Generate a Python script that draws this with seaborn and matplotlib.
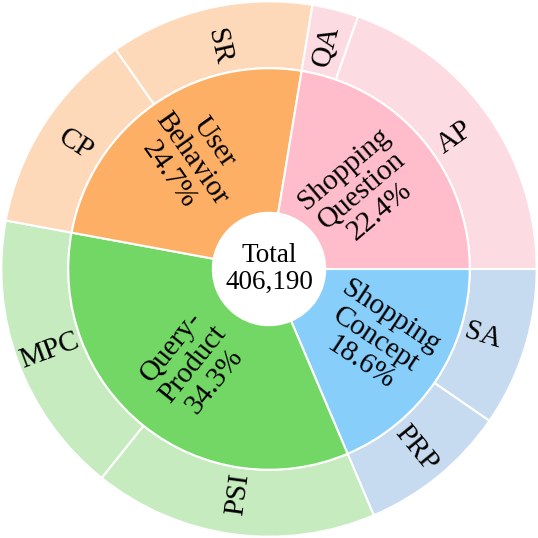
import numpy as np
import matplotlib.pyplot as plt
import seaborn as sns

# inner ring (task groups) and outer ring (sub-tasks), clockwise from 3 o'clock
inner_labels = ["Shopping\nConcept\n18.6%", "Query-\nProduct\n34.3%",
                "User\nBehavior\n24.7%", "Shopping\nQuestion\n22.4%"]
inner_values = [18.6, 34.3, 24.7, 22.4]
outer_labels = ["SA", "PRP", "PSI", "MPC", "CP", "SR", "QA", "AP"]
outer_values = [9.6, 9.0, 17.15, 17.15, 12.4, 12.3, 2.8, 19.6]
total_text = "Total\n406,190"

inner_colors = ["#87CEFA", "#72D764", "#FDAF66", "#FFBCCB"]
light_colors = ["#C6DBF0", "#C5EBBE", "#FDD9B9", "#FDDBE2"]
outer_colors = [c for c in light_colors for _ in range(2)]

# where the label text sits along each wedge's middle (fraction of outer radius)
inner_text_r = [0.478, 0.455, 0.505, 0.455]
outer_text_r = [0.835, 0.865, 0.85, 0.875, 0.86, 0.85, 0.86, 0.85]

sns.set_theme(style="white")
plt.rcParams['font.family'] = ['Liberation Serif', 'DejaVu Serif']

fig = plt.figure(figsize=(5.38, 5.38), dpi=100)
ax = fig.add_axes([0, 0, 1, 1])

R_OUT, R_MID, R_HOLE = 1.0, 0.75, 0.21
edge = dict(edgecolor="white", linewidth=1.5)

ax.pie(outer_values, radius=R_OUT, startangle=0, counterclock=False,
       colors=outer_colors, wedgeprops=dict(width=R_OUT - R_MID, **edge))
ax.pie(inner_values, radius=R_MID, startangle=0, counterclock=False,
       colors=inner_colors, wedgeprops=dict(width=R_MID - R_HOLE, **edge))


def radial_rotation(mid):
    r = (mid + 180) % 360 - 180
    if r > 90:
        r -= 180
    elif r < -90:
        r += 180
    return r


def put_labels(labels, values, radii, size, spacing):
    cum = np.cumsum(values)
    total = cum[-1]
    for lab, c, v, rad in zip(labels, cum, values, radii):
        mid = -(c - v / 2) / total * 360
        th = np.deg2rad(mid)
        ax.text(rad * np.cos(th), rad * np.sin(th), lab,
                rotation=radial_rotation(mid), rotation_mode="anchor",
                ha="center", va="center", multialignment="center",
                fontsize=size, linespacing=spacing, color="black")


put_labels(inner_labels, inner_values, inner_text_r, 21, 1.08)
put_labels(outer_labels, outer_values, outer_text_r, 21, 1.0)

ax.text(0, 0, total_text, ha="center", va="center", fontsize=19.5,
        linespacing=1.12, color="black")

ax.set_xlim(-1.005, 1.005)
ax.set_ylim(-1.005, 1.005)
ax.set_aspect("equal")
ax.axis("off")

fig.savefig("out.png", dpi=100, facecolor="white")
